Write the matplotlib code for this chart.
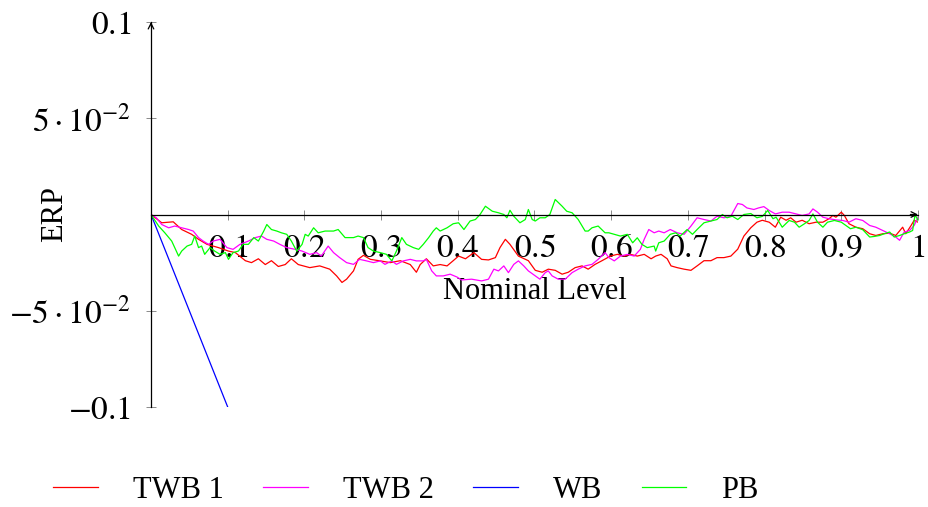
import numpy as np
import matplotlib
matplotlib.use("Agg")
from matplotlib import pyplot as plt

twb1_x = [0, 0.014, 0.029, 0.04, 0.053, 0.062, 0.073, 0.088, 0.101, 0.11, 0.123, 0.131, 0.14, 0.149,
          0.157, 0.166, 0.175, 0.183, 0.192, 0.207, 0.220, 0.233, 0.242, 0.249, 0.255, 0.264, 0.270,
          0.277, 0.286, 0.299, 0.312, 0.325, 0.338, 0.346, 0.351, 0.359, 0.368, 0.377, 0.386, 0.394,
          0.401, 0.410, 0.421, 0.431, 0.440, 0.449, 0.455, 0.462, 0.468, 0.479, 0.492, 0.501, 0.510,
          0.518, 0.527, 0.536, 0.544, 0.553, 0.562, 0.57, 0.579, 0.588, 0.599, 0.608, 0.617, 0.625,
          0.634, 0.643, 0.652, 0.658, 0.665, 0.673, 0.678, 0.686, 0.695, 0.704, 0.712, 0.721, 0.73,
          0.738, 0.747, 0.756, 0.765, 0.773, 0.782, 0.79, 0.797, 0.806, 0.814, 0.821, 0.828, 0.834,
          0.841, 0.849, 0.858, 0.867, 0.876, 0.884, 0.889, 0.893, 0.9, 0.904, 0.91, 0.919, 0.928,
          0.937, 0.945, 0.954, 0.963, 0.971, 0.98, 0.984, 0.991, 0.995, 1.0]
twb1_y = [0, -0.0043, -0.0038, -0.0078, -0.0103, -0.0129, -0.0155, -0.0172, -0.019, -0.0198, -0.024,
          -0.025, -0.023, -0.026, -0.024, -0.027, -0.026, -0.023, -0.026, -0.0276, -0.0267, -0.0284,
          -0.0319, -0.0353, -0.0336, -0.0293, -0.0233, -0.0212, -0.0233, -0.0241, -0.025, -0.024,
          -0.026, -0.030, -0.026, -0.023, -0.0267, -0.026, -0.0267, -0.024, -0.0216, -0.023, -0.0198,
          -0.0233, -0.0236, -0.0224, -0.0172, -0.0129, -0.0155, -0.0216, -0.024, -0.029, -0.030,
          -0.0284, -0.029, -0.031, -0.030, -0.0276, -0.0267, -0.0284, -0.0259, -0.024, -0.0216,
          -0.0207, -0.0216, -0.0207, -0.0216, -0.0207, -0.023, -0.0216, -0.0207, -0.023, -0.0267,
          -0.0276, -0.0284, -0.029, -0.0267, -0.024, -0.024, -0.0224, -0.0224, -0.0216, -0.018,
          -0.0112, -0.0069, -0.004, -0.003, -0.004, -0.0066, -0.0014, -0.003, -0.0017, -0.004, -0.003,
          -0.0048, -0.004, -0.004, -0.0022, -0.0005, -0.0014, 0.0012, -0.0005, -0.0048, -0.0066,
          -0.0074, -0.010, -0.0109, -0.010, -0.0097, -0.0109, -0.0066, -0.010, -0.0057, -0.003, -0.004]

twb2_x = [0, 0.007, 0.014, 0.023, 0.031, 0.04, 0.049, 0.055, 0.062, 0.068, 0.075, 0.081, 0.09, 0.099,
          0.107, 0.116, 0.127, 0.136, 0.144, 0.151, 0.16, 0.168, 0.177, 0.188, 0.197, 0.207, 0.216,
          0.222, 0.231, 0.238, 0.246, 0.255, 0.264, 0.272, 0.281, 0.29, 0.299, 0.305, 0.314, 0.32,
          0.329, 0.338, 0.346, 0.355, 0.359, 0.366, 0.372, 0.381, 0.39, 0.399, 0.405, 0.418, 0.431,
          0.440, 0.447, 0.453, 0.46, 0.466, 0.473, 0.479, 0.486, 0.492, 0.501, 0.507, 0.514, 0.518,
          0.523, 0.531, 0.54, 0.549, 0.557, 0.566, 0.575, 0.583, 0.592, 0.597, 0.604, 0.612, 0.621,
          0.63, 0.638, 0.643, 0.649, 0.656, 0.662, 0.669, 0.677, 0.686, 0.695, 0.704, 0.712, 0.721,
          0.73, 0.738, 0.747, 0.756, 0.765, 0.771, 0.777, 0.786, 0.792, 0.799, 0.806, 0.814, 0.823,
          0.832, 0.841, 0.849, 0.858, 0.863, 0.869, 0.876, 0.884, 0.893, 0.902, 0.91, 0.919, 0.928,
          0.937, 0.945, 0.954, 0.963, 0.971, 0.976, 0.982, 0.989, 0.995, 1.0]
twb2_y = [0, -0.0017, -0.0052, -0.0069, -0.006, -0.0069, -0.0078, -0.0086, -0.012, -0.0138, -0.0155,
          -0.0138, -0.0129, -0.0172, -0.0181, -0.0155, -0.0138, -0.012, -0.0112, -0.0129, -0.0138,
          -0.0155, -0.0172, -0.0181, -0.019, -0.0207, -0.0198, -0.0216, -0.0164, -0.0198, -0.0224,
          -0.025, -0.0259, -0.0233, -0.0241, -0.025, -0.0241, -0.0259, -0.0241, -0.0259, -0.0241,
          -0.0233, -0.0241, -0.0241, -0.0233, -0.0293, -0.0319, -0.0319, -0.031, -0.0325, -0.034,
          -0.0336, -0.0345, -0.0336, -0.0284, -0.0293, -0.0267, -0.0302, -0.0259, -0.0241, -0.0267,
          -0.0293, -0.0319, -0.0336, -0.0302, -0.0293, -0.0319, -0.0336, -0.0336, -0.0302, -0.0284,
          -0.0267, -0.0259, -0.0233, -0.0198, -0.0224, -0.0241, -0.0216, -0.0207, -0.0216, -0.0181,
          -0.0129, -0.0078, -0.0095, -0.0086, -0.0095, -0.0078, -0.0095, -0.0103, -0.006, -0.0017,
          -0.0026, -0.0034, -0.0009, -0.0017, -0.0009, 0.0057, 0.0052, 0.0034, 0.0026, 0.0034, 0.0041,
          0.0021, 0.0003, 0.0012, 0.0012, 0.0003, -0.0005, 0.0003, 0.0029, 0.0012, -0.0014, -0.0022,
          -0.0028, -0.0031, -0.004, -0.0022, -0.0031, -0.0057, -0.0066, -0.0083, -0.01, -0.0117,
          -0.0134, -0.0091, -0.0083, -0.0057, -0.0014]

wb_x = [0, 1]
wb_y = [0, -1]

pb_x = [0, 0.01, 0.018, 0.027, 0.036, 0.04, 0.047, 0.053, 0.057, 0.062, 0.066, 0.07, 0.077, 0.083,
        0.09, 0.097, 0.101, 0.107, 0.114, 0.12, 0.127, 0.134, 0.14, 0.147, 0.151, 0.157, 0.164, 0.17,
        0.177, 0.183, 0.19, 0.197, 0.201, 0.205, 0.212, 0.218, 0.227, 0.238, 0.244, 0.253, 0.264, 0.27,
        0.277, 0.283, 0.29, 0.299, 0.307, 0.314, 0.32, 0.327, 0.333, 0.342, 0.349, 0.355, 0.362,
        0.368, 0.372, 0.377, 0.386, 0.394, 0.401, 0.408, 0.416, 0.423, 0.429, 0.436, 0.445, 0.453,
        0.46, 0.464, 0.468, 0.473, 0.481, 0.488, 0.492, 0.497, 0.501, 0.507, 0.514, 0.52, 0.527,
        0.536, 0.542, 0.549, 0.557, 0.566, 0.57, 0.575, 0.583, 0.592, 0.597, 0.604, 0.612, 0.621,
        0.628, 0.634, 0.64, 0.647, 0.656, 0.658, 0.662, 0.669, 0.677, 0.684, 0.69, 0.699, 0.706,
        0.712, 0.721, 0.73, 0.738, 0.745, 0.751, 0.758, 0.765, 0.773, 0.782, 0.79, 0.797, 0.804,
        0.811, 0.815, 0.823, 0.832, 0.839, 0.845, 0.852, 0.858, 0.863, 0.869, 0.876, 0.882, 0.891,
        0.9, 0.906, 0.912, 0.919, 0.928, 0.937, 0.943, 0.95, 0.956, 0.963, 0.969, 0.976, 0.982,
        0.989, 0.993, 0.996, 0.998, 1.0]
pb_y = [0, -0.006, -0.0095, -0.0138, -0.0216, -0.019, -0.0164, -0.0155, -0.0112, -0.0172, -0.0164,
        -0.0207, -0.0172, -0.019, -0.0207, -0.0198, -0.0233, -0.0198, -0.019, -0.0155, -0.0155,
        -0.012, -0.0138, -0.0086, -0.0052, -0.0078, -0.0086, -0.0095, -0.0103, -0.0138, -0.019,
        -0.0155, -0.0103, -0.0112, -0.0069, -0.0095, -0.0086, -0.0086, -0.0078, -0.012, -0.012,
        -0.0112, -0.012, -0.0172, -0.019, -0.0198, -0.0207, -0.0241, -0.019, -0.012, -0.0155,
        -0.0172, -0.0181, -0.0155, -0.012, -0.0086, -0.0069, -0.0086, -0.0069, -0.0048, -0.0043,
        -0.0078, -0.0034, -0.0026, 0, 0.0043, 0.0017, 0.0009, 0, -0.0017, 0.0022, -0.0009, -0.0043,
        -0.0026, 0.0026, -0.0026, -0.0034, -0.0017, -0.0017, 0, 0.0078, 0.0043, 0.0017, 0.0009,
        -0.0026, -0.0086, -0.0086, -0.0069, -0.006, -0.0095, -0.0095, -0.0103, -0.0112, -0.0103,
        -0.0147, -0.0121, -0.0155, -0.0172, -0.0164, -0.019, -0.0147, -0.0138, -0.0103, -0.0095,
        -0.0112, -0.0078, -0.0103, -0.0078, -0.0043, -0.0034, -0.0026, 0, -0.0017, -0.0009, -0.0026,
        0, 0.0005, -0.0017, -0.001, 0.0021, -0.0022, -0.0014, -0.0066, -0.0031, -0.004, -0.0066,
        -0.0048, -0.0031, 0.0003, -0.004, -0.0066, -0.004, -0.0031, -0.004, -0.0057, -0.0074,
        -0.0066, -0.0079, -0.0117, -0.0114, -0.0109, -0.01, -0.0091, -0.0117, -0.0109, -0.01,
        -0.0091, -0.0083, -0.0005, -0.0014, -0.0031]

x_ticks = [0.1, 0.2, 0.3, 0.4, 0.5, 0.6, 0.7, 0.8, 0.9, 1]
x_tick_labels = ["$0.1$", "$0.2$", "$0.3$", "$0.4$", "$0.5$", "$0.6$", "$0.7$", "$0.8$", "$0.9$", "$1$"]
y_ticks = [-0.1, -0.05, 0.05, 0.1]
y_tick_labels = [r"$-0.1$", r"$-5\cdot10^{-2}$", r"$5\cdot10^{-2}$", r"$0.1$"]


def main():
    plt.rcParams["font.family"] = "serif"
    plt.rcParams["font.serif"] = ["Liberation Serif", "DejaVu Serif"]
    plt.rcParams["mathtext.fontset"] = "stix"

    fs = 22
    fig = plt.figure(figsize=(9.29, 5.07), dpi=100)
    ax = fig.add_axes([151 / 929, 1 - 407 / 507, 767 / 929, 385 / 507])

    lw = 0.9
    ax.plot(twb1_x, twb1_y, color="#ff0000", lw=lw, label="TWB 1")
    ax.plot(twb2_x, twb2_y, color="#ff00ff", lw=lw, label="TWB 2")
    ax.plot(wb_x, wb_y, color="#0000ff", lw=lw, label="WB")
    ax.plot(pb_x, pb_y, color="#00ff00", lw=lw, label="PB")

    ax.set_xlim(0, 1)
    ax.set_ylim(-0.1, 0.1)

    # pgfplots style middle axis lines
    ax.spines["left"].set_position(("data", 0))
    ax.spines["bottom"].set_position(("data", 0))
    ax.spines["top"].set_visible(False)
    ax.spines["right"].set_visible(False)
    for s in ("left", "bottom"):
        ax.spines[s].set_linewidth(0.9)
    ax.annotate("", xy=(1.0, 0), xytext=(0.99, 0),
                arrowprops=dict(arrowstyle="->", lw=0.9, color="black", shrinkA=0, shrinkB=0),
                annotation_clip=False)
    ax.annotate("", xy=(0, 0.1), xytext=(0, 0.098),
                arrowprops=dict(arrowstyle="->", lw=0.9, color="black", shrinkA=0, shrinkB=0),
                annotation_clip=False)

    ax.set_xticks(x_ticks)
    ax.set_xticklabels(x_tick_labels)
    ax.set_yticks(y_ticks)
    ax.set_yticklabels(y_tick_labels)
    ax.tick_params(axis="both", direction="inout", length=7, width=0.6, color="#777777",
                   labelsize=24)
    ax.tick_params(axis="x", pad=10)
    ax.tick_params(axis="y", pad=11)

    ax.set_xlabel("Nominal Level", fontsize=fs)
    ax.xaxis.set_label_coords(0.5, 0.337)
    ax.set_ylabel("ERP", fontsize=fs)
    ax.yaxis.set_label_coords(-0.107, 0.5)

    fig.legend(loc="center", bbox_to_anchor=(406 / 929, 1 - 490 / 507), ncol=4, frameon=False,
               fontsize=fs, handlelength=1.45, handletextpad=1.15, columnspacing=1.3)

    fig.savefig("out.png", dpi=100)


if __name__ == '__main__':
    main()
